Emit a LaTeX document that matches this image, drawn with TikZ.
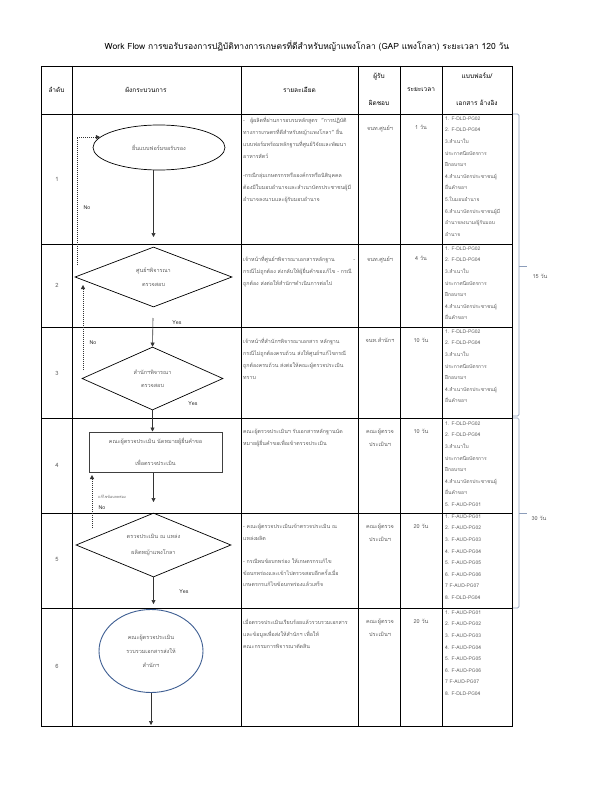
\documentclass[tikz,border=0pt]{standalone}
\usepackage{fontspec}
\setmainfont[Script=Thai]{Loma}
\usepackage{xcolor}
\usetikzlibrary{arrows.meta, shapes.geometric}

\definecolor{bodygrey}{HTML}{5F5F5F}
\definecolor{bracketblue}{HTML}{8C9DBA}
\definecolor{ovalblue}{HTML}{3E5E92}

\tikzset{
  celltext/.style={anchor=north west, inner sep=0pt, text width=112pt, align=left, text=bodygrey, font=\fontsize{5.3}{11.8}\selectfont},
  formtext/.style={anchor=north west, inner sep=0pt, align=left, text=bodygrey, font=\fontsize{5}{11.6}\selectfont},
  midtext/.style={anchor=north, inner sep=0pt, align=center, text=bodygrey, font=\fontsize{5.5}{13}\selectfont},
  headtext/.style={inner sep=0pt, align=center, font=\fontsize{6.5}{27}\selectfont},
  yesno/.style={inner sep=0pt, text=black!85, font=\fontsize{5.3}{6}\selectfont},
  solidarrow/.style={draw=black!80, line width=0.6pt, -{Triangle[length=4pt, width=4pt]}},
  backarrow/.style={draw=black!80, line width=0.5pt, dash pattern=on 1.2pt off 0.8pt, -{Triangle[length=4pt, width=4pt]}},
  tablegrid/.style={line width=0.9pt},
}

\begin{document}
\begin{tikzpicture}[x=1pt, y=-1pt]
    \fill[white] (0,0) rectangle (612,792);
    \useasboundingbox (0,0) rectangle (612,792);

    % Title
    \node[inner sep=0pt, font=\fontsize{8.5}{11}\selectfont] (title) at (307,46)
        {Work Flow การขอรับรองการปฏิบัติทางการเกษตรที่ดีสำหรับหญ้าแพงโกลา (GAP แพงโกลา) ระยะเวลา 120 วัน};

    % Table grid
    \draw[tablegrid] (41,66) rectangle (512,726);
    \foreach \colx in {72, 241, 358, 400, 442}
        \draw[tablegrid] (\colx,66) -- (\colx,726);
    \foreach \rowy in {114, 244, 327, 418, 513, 608}
        \draw[tablegrid] (41,\rowy) -- (512,\rowy);

    % Header
    \node[headtext] (h_num) at (56.5,89.5) {ลำดับ};
    \node[headtext] (h_flow) at (146,89.5) {ผังกระบวนการ};
    \node[headtext] (h_detail) at (299.5,89.5) {รายละเอียด};
    \node[headtext] (h_resp) at (379,89.5) {ผู้รับ\\ผิดชอบ};
    \node[headtext] (h_time) at (421,89.5) {ระยะเวลา};
    \node[headtext] (h_form) at (477,89.5) {แบบฟอร์ม/\\เอกสาร อ้างอิง};

    % Row numbers
    \node[text=bodygrey, font=\fontsize{5.8}{6}\selectfont] (num1) at (57,179) {1};
    \node[text=bodygrey, font=\fontsize{5.8}{6}\selectfont] (num2) at (57,285) {2};
    \node[text=bodygrey, font=\fontsize{5.8}{6}\selectfont] (num3) at (57,373) {3};
    \node[text=bodygrey, font=\fontsize{5.8}{6}\selectfont] (num4) at (57,465) {4};
    \node[text=bodygrey, font=\fontsize{5.8}{6}\selectfont] (num5) at (57,559) {5};
    \node[text=bodygrey, font=\fontsize{5.8}{6}\selectfont] (num6) at (57,666) {6};

    % Flow - step 1
    \node[ellipse, draw, line width=0.7pt, minimum width=132pt, minimum height=45pt, inner sep=0pt,
          text=bodygrey, font=\fontsize{5.5}{6}\selectfont] (submit) at (159,147.5) {ยื่นแบบฟอร์มขอรับรอง\hspace{42pt}};
    \coordinate (submit_end) at (153.5,237);
    \draw[solidarrow] (submit.south -| submit_end) -- (submit_end);

    % Flow - step 2
    \node[diamond, draw, line width=0.7pt, aspect=2.6, minimum width=157pt, minimum height=60pt, inner sep=0pt,
          align=center, text=bodygrey, font=\fontsize{5.5}{14}\selectfont] (center_check) at (153.5,277)
          {ศูนย์ฯพิจารณา\hspace{24pt}\\ตรวจสอบ\hspace{24pt}};
    \coordinate (center_yes) at (153,318);
    \coordinate (center_no) at (77,265);
    \draw[backarrow] (center_no) |- (submit.170);
    \node[yesno] (no1) at (87,208) {No};

    % Flow - step 3
    \node[diamond, draw, line width=0.7pt, aspect=2.24, minimum width=141pt, minimum height=63pt, inner sep=0pt,
          align=center, text=bodygrey, font=\fontsize{5.5}{13}\selectfont] (office_check) at (152.5,378.5) {สำนักฯพิจารณา\\ตรวจสอบ};
    \draw[solidarrow] (center_yes) -- (office_check.north);
    \node[yesno] (yes1) at (177,323) {Yes};
    \coordinate (office_no) at (83,370);
    \coordinate (office_no_end) at (83,285);
    \draw[backarrow] (office_no) -- (office_no_end);
    \node[yesno] (no2) at (93,343) {No};
    \node[yesno] (yes2) at (193,404) {Yes};

    % Flow - step 4
    \node[rectangle, draw=black!75, line width=1pt, minimum width=133pt, minimum height=40pt, inner sep=0pt,
          align=center, text=bodygrey, font=\fontsize{5.5}{22}\selectfont] (appoint) at (155.5,452)
          {คณะผู้ตรวจประเมิน นัดหมายผู้ยื่นคำขอ\\เพื่อตรวจประเมิน};
    \draw[solidarrow] (office_check.south) -- (appoint.north -| office_check.south);
    \coordinate (appoint_end) at (153.5,502);
    \draw[solidarrow] (appoint.south -| appoint_end) -- (appoint_end);

    % Flow - step 5
    \node[diamond, draw, line width=0.7pt, aspect=2.42, minimum width=155pt, minimum height=64pt, inner sep=0pt,
          align=center, text=bodygrey, font=\fontsize{5.5}{16}\selectfont] (site_audit) at (153.5,545)
          {ตรวจประเมิน ณ แหล่ง\\ผลิตหญ้าแพงโกลา};
    \coordinate (site_no) at (92,528);
    \coordinate (site_no_end) at (92,475);
    \draw[backarrow] (site_no) -- (site_no_end);
    \node[inner sep=0pt, text=bodygrey, font=\fontsize{3.8}{4}\selectfont] (fix_note) at (112,497) {แก้ไขข้อบกพร่อง};
    \node[yesno] (no3) at (102,508) {No};
    \coordinate (site_end) at (153.5,604);
    \draw[solidarrow] (site_audit.south) -- (site_end);
    \node[yesno] (yes3) at (184,592) {Yes};

    % Flow - step 6
    \node[ellipse, draw=ovalblue, line width=0.9pt, minimum width=104pt, minimum height=83pt, inner sep=0pt,
          align=center, text=bodygrey, font=\fontsize{5.5}{14}\selectfont] (collect) at (151,651)
          {คณะผู้ตรวจประเมิน\\รวบรวมเอกสารส่งให้\\สำนักฯ};
    \coordinate (collect_end) at (151,725);
    \draw[solidarrow] (collect.south) -- (collect_end);

    % Details column
    \node[celltext] (det1) at (243,117) {- \ \ ผู้ผลิตที่ผ่านการอบรมหลักสูตร \ "การปฏิบัติ\\ทางการเกษตรที่ดีสำหรับหญ้าแพงโกลา" ยื่น\\แบบฟอร์มพร้อมหลักฐานที่ศูนย์วิจัยและพัฒนา\\อาหารสัตว์\\[8pt]-กรณีกลุ่มเกษตรกรหรือองค์กรหรือนิติบุคคล\\ต้องมีใบมอบอำนาจและสำเนาบัตรประชาชนผู้มี\\อำนาจลงนามและผู้รับมอบอำนาจ};
    \node[celltext] (det2) at (243,256) {เจ้าหน้าที่ศูนย์ฯพิจารณาเอกสารหลักฐาน\hfill-\\กรณีไม่ถูกต้อง ส่งกลับให้ผู้ยื่นคำขอแก้ไข - กรณี\\ถูกต้อง ส่งต่อให้สำนักฯดำเนินการต่อไป};
    \node[celltext] (det3) at (243,338) {เจ้าหน้าที่สำนักฯพิจารณาเอกสาร หลักฐาน\\กรณีไม่ถูกต้องครบถ้วน ส่งให้ศูนย์ฯแก้ไขกรณี\\ถูกต้องครบถ้วน ส่งต่อให้คณะผู้ตรวจประเมิน\\ทราบ};
    \node[celltext] (det4) at (243,429) {คณะผู้ตรวจประเมินฯ รับเอกสารหลักฐานนัด\\หมายผู้ยื่นคำขอเพื่อเข้าตรวจประเมิน};
    \node[celltext] (det5) at (243,524) {- คณะผู้ตรวจประเมินเข้าตรวจประเมิน ณ\\แหล่งผลิต\\[11pt]- กรณีพบข้อบกพร่อง ให้เกษตรกรแก้ไข\\ข้อบกพร่องและเข้าไปตรวจสอบอีกครั้งเมื่อ\\เกษตรกรแก้ไขข้อบกพร่องแล้วเสร็จ};
    \node[celltext] (det6) at (243,619) {เมื่อตรวจประเมินเรียบร้อยแล้วรวบรวมเอกสาร\\และข้อมูลเพื่อส่งให้สำนักฯ เพื่อให้\\คณะกรรมการพิจารณาตัดสิน};

    % Responsible column
    \node[midtext] (resp1) at (380,125) {จนท.ศูนย์ฯ};
    \node[midtext] (resp2) at (380,256) {จนท.ศูนย์ฯ};
    \node[midtext] (resp3) at (380,338) {จนท.สำนักฯ};
    \node[midtext] (resp4) at (380,429) {คณะผู้ตรวจ\\ประเมินฯ};
    \node[midtext] (resp5) at (380,524) {คณะผู้ตรวจ\\ประเมินฯ};
    \node[midtext] (resp6) at (380,619) {คณะผู้ตรวจ\\ประเมินฯ};

    % Time column
    \node[midtext] (time1) at (421,125) {1 วัน};
    \node[midtext] (time2) at (421,256) {4 วัน};
    \node[midtext] (time3) at (421,338) {10 วัน};
    \node[midtext] (time4) at (421,429) {10 วัน};
    \node[midtext] (time5) at (421,524) {20 วัน};
    \node[midtext] (time6) at (421,619) {20 วัน};

    % Forms column
    \node[formtext] (form1) at (445,116.5) {1. F-DLD-PG02\\2. F-DLD-PG04\\3.สำเนาใบ\\ประกาศนียบัตรการ\\ฝึกอบรมฯ\\4.สำเนาบัตรประชาชนผู้\\ยื่นคำขอฯ\\5.ใบมอบอำนาจ\\6.สำเนาบัตรประชาชนผู้มี\\อำนาจลงนาม/ผู้รับมอบ\\อำนาจ};
    \node[formtext] (form2) at (445,246.5) {1. F-DLD-PG02\\2. F-DLD-PG04\\3.สำเนาใบ\\ประกาศนียบัตรการ\\ฝึกอบรมฯ\\4.สำเนาบัตรประชาชนผู้\\ยื่นคำขอฯ};
    \node[formtext] (form3) at (445,329.5) {1. F-DLD-PG02\\2. F-DLD-PG04\\3.สำเนาใบ\\ประกาศนียบัตรการ\\ฝึกอบรมฯ\\4.สำเนาบัตรประชาชนผู้\\ยื่นคำขอฯ};
    \node[formtext] (form4) at (445,421.5) {1. F-DLD-PG02\\2. F-DLD-PG04\\3.สำเนาใบ\\ประกาศนียบัตรการ\\ฝึกอบรมฯ\\4.สำเนาบัตรประชาชนผู้\\ยื่นคำขอฯ\\5. F-AUD-PG01};
    \node[formtext] (form5) at (445,514.5) {1. F-AUD-PG01\\2. F-AUD-PG02\\3. F-AUD-PG03\\4. F-AUD-PG04\\5. F-AUD-PG05\\6. F-AUD-PG06\\7 F-AUD-PG07\\8. F-DLD-PG04};
    \node[formtext] (form6) at (445,610.5) {1. F-AUD-PG01\\2. F-AUD-PG02\\3. F-AUD-PG03\\4. F-AUD-PG04\\5. F-AUD-PG05\\6. F-AUD-PG06\\7 F-AUD-PG07\\8. F-DLD-PG04};

    % Brackets
    \draw[bracketblue, line width=0.7pt, rounded corners=1.5pt] (513,114) -- (519,114) -- (519,416) -- (513,416);
    \draw[bracketblue, line width=0.7pt] (519,266) -- (527,266);
    \node[inner sep=0pt, text=bodygrey, font=\fontsize{5.5}{6}\selectfont] (span1) at (540,276) {15 วัน};
    \draw[bracketblue, line width=0.7pt, rounded corners=1.5pt] (513,418) -- (519,418) -- (519,608) -- (513,608);
    \draw[bracketblue, line width=0.7pt] (519,513) -- (527,513);
    \node[inner sep=0pt, text=bodygrey, font=\fontsize{5.5}{6}\selectfont] (span2) at (539,518) {30 วัน};
\end{tikzpicture}
\end{document}
